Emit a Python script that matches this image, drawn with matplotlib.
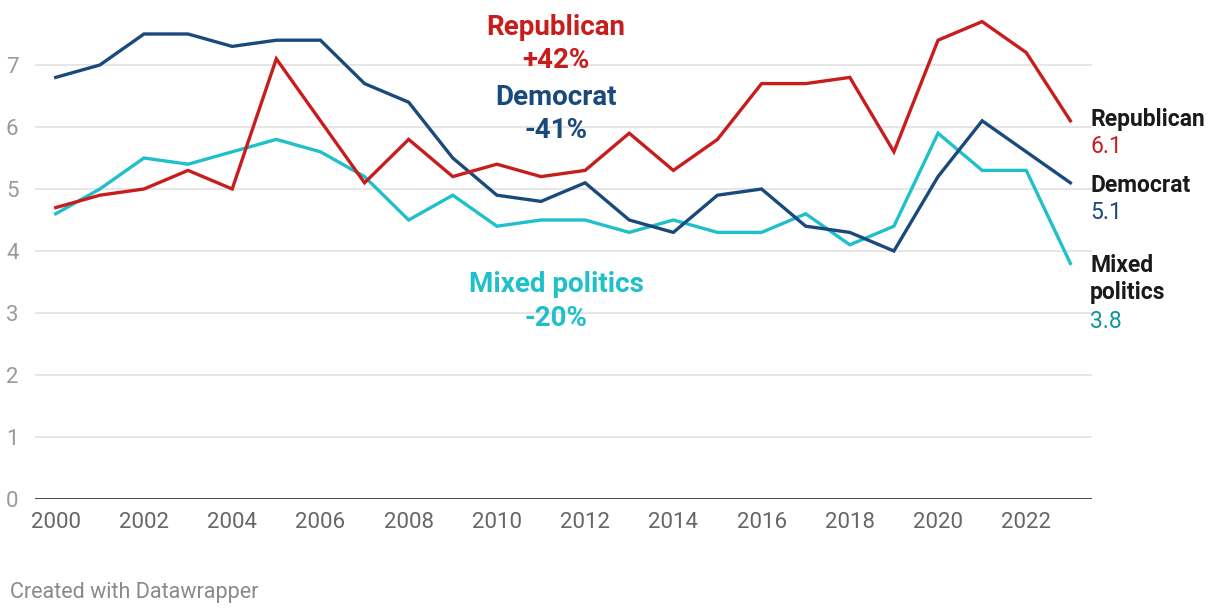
import matplotlib
matplotlib.use("Agg")
import matplotlib.pyplot as plt

plt.rcParams['font.family'] = ['Roboto', 'DejaVu Sans']

years = list(range(2000, 2024))
republican = [4.7, 4.9, 5.0, 5.3, 5.0, 7.1, 6.1, 5.1, 5.8, 5.2, 5.4, 5.2,
              5.3, 5.9, 5.3, 5.8, 6.7, 6.7, 6.8, 5.6, 7.4, 7.7, 7.2, 6.1]
democrat = [6.8, 7.0, 7.5, 7.5, 7.3, 7.4, 7.4, 6.7, 6.4, 5.5, 4.9, 4.8,
            5.1, 4.5, 4.3, 4.9, 5.0, 4.4, 4.3, 4.0, 5.2, 6.1, 5.6, 5.1]
mixed = [4.6, 5.0, 5.5, 5.4, 5.6, 5.8, 5.6, 5.2, 4.5, 4.9, 4.4, 4.5,
         4.5, 4.3, 4.5, 4.3, 4.3, 4.6, 4.1, 4.4, 5.9, 5.3, 5.3, 3.8]
xticks = list(range(2000, 2023, 2))
yticks = list(range(0, 8))

RED = '#c71e1d'
NAVY = '#1a4a7c'
TEAL = '#1fc0ca'
TEAL_DARK = '#0f959d'

W, H = 1220, 616
fig = plt.figure(figsize=(W / 100, H / 100), dpi=100)
ax = fig.add_axes([35 / W, 117 / H, (1092 - 35) / W, 496 / H])

ax.plot(years, mixed, color=TEAL, lw=2.4, solid_joinstyle='miter', zorder=3)
ax.plot(years, democrat, color=NAVY, lw=2.4, solid_joinstyle='miter', zorder=4)
ax.plot(years, republican, color=RED, lw=2.4, solid_joinstyle='miter', zorder=5)

ax.set_xlim(1999.53, 2023.49)
ax.set_ylim(0, 8)
ax.set_yticks(yticks)
ax.set_xticks(xticks)
ax.set_xticklabels([str(y) for y in xticks])
for s in ax.spines.values():
    s.set_visible(False)
ax.grid(axis='y', color='#e1e1e1', lw=1.2, zorder=0)
ax.axhline(0, color='#1a1a1a', lw=1.8, zorder=6)
ax.tick_params(axis='both', length=0, labelsize=16, colors='#9a9a9a')
ax.tick_params(axis='x', pad=9, colors='#666666')
ax.tick_params(axis='y', pad=12)
for lab in ax.get_yticklabels():
    lab.set_horizontalalignment('right')


def ptext(x, y, s, **kw):
    # place text by pixel position (y = baseline from top)
    fig.text(x / W, 1 - y / H, s, va='baseline', **kw)


# centre annotations
big = dict(fontsize=20, fontweight='bold', ha='center')
ptext(556, 35, 'Republican', color=RED, **big)
ptext(556, 68, '+42%', color=RED, **big)
ptext(556, 105, 'Democrat', color=NAVY, **big)
ptext(556, 138, '-41%', color=NAVY, **big)
ptext(556, 292, 'Mixed politics', color=TEAL, **big)
ptext(556, 326, '-20%', color=TEAL, **big)

# right-side labels
name = dict(fontsize=16.5, fontweight='bold', color='#1a1a1a', ha='left')
val = dict(fontsize=16.5, ha='left')
ptext(1090, 126, 'Republican', **name)
ptext(1090, 153, '6.1', color=RED, **val)
ptext(1090, 192, 'Democrat', **name)
ptext(1090, 219, '5.1', color=NAVY, **val)
ptext(1090, 272, 'Mixed', **name)
ptext(1090, 299, 'politics', **name)
ptext(1090, 328, '3.8', color=TEAL_DARK, **val)

ptext(10, 598, 'Created with Datawrapper', fontsize=15.5, color='#8a8a8a',
      ha='left')

fig.savefig('out.png', dpi=100)
